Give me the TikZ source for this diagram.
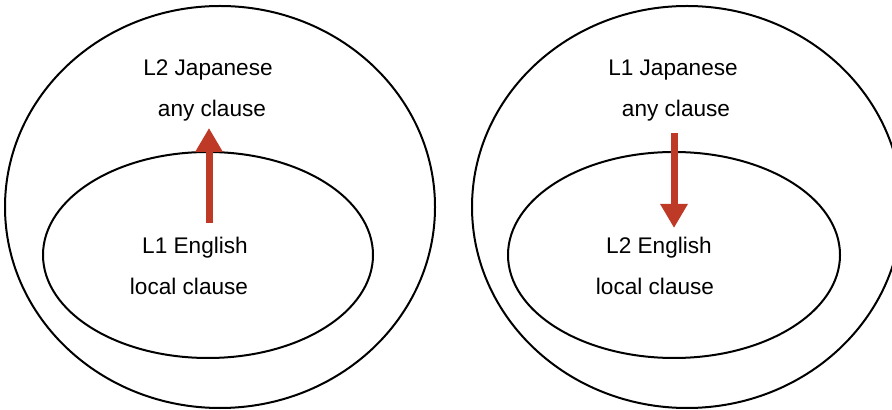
\documentclass[tikz,border=0pt]{standalone}
\usepackage{fontspec}
\setmainfont{Liberation Sans}
\usetikzlibrary{arrows.meta,positioning,shapes.geometric}
\definecolor{arrowred}{HTML}{BE3A26}

\begin{document}
\begin{tikzpicture}[x=0.5pt,y=-0.5pt,
    setbox/.style={ellipse, draw=black, line width=1pt, inner sep=0pt},
    langtext/.style={font=\fontsize{11.3}{13}\selectfont, inner sep=0pt},
    shiftarrow/.style={draw=arrowred, line width=3.5pt,
                       -{Triangle[width=13pt,length=12pt]}},
]
\useasboundingbox (0,0) rectangle (892,410);

% left: L2 Japanese over L1 English
\node[setbox,minimum width=215pt,minimum height=201pt] (outer1) at (220,207) {};
\node[setbox,minimum width=165pt,minimum height=103pt] (inner1) at (208,255) {};
\node[langtext] (jap1) at (208,70) {L2 Japanese};
\node[langtext,below=9.5pt of jap1,xshift=2pt] (any1) {any clause};
\node[langtext] (eng1) at (195,248) {L1 English};
\node[langtext,below=9.5pt of eng1,xshift=-3pt] (loc1) {local clause};

% right: L1 Japanese over L2 English
\node[setbox,minimum width=215pt,minimum height=201pt] (outer2) at (687,207) {};
\node[setbox,minimum width=166pt,minimum height=103pt] (inner2) at (674,255) {};
\node[langtext] (jap2) at (673,70) {L1 Japanese};
\node[langtext,below=9.5pt of jap2,xshift=1.5pt] (any2) {any clause};
\node[langtext] (eng2) at (659,248) {L2 English};
\node[langtext,below=9.5pt of eng2,xshift=-2pt] (loc2) {local clause};

\coordinate (up1s) at (209,223);
\coordinate (up1e) at (209,128);
\coordinate (dn2s) at (674,133);
\coordinate (dn2e) at (674,228);
\draw[shiftarrow] (up1s) -- (up1e);
\draw[shiftarrow] (dn2s) -- (dn2e);

\end{tikzpicture}
\end{document}
